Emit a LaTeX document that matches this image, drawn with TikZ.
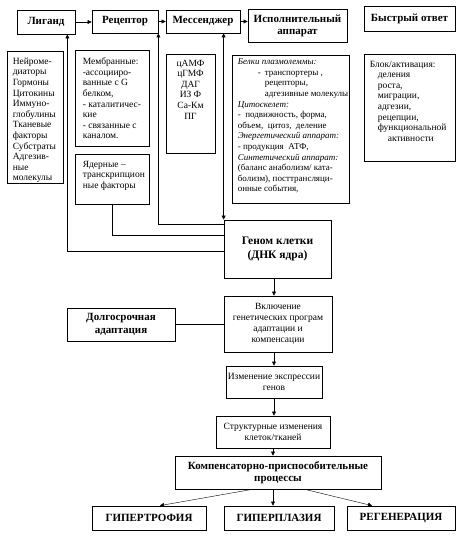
\documentclass[tikz,border=0pt]{standalone}
\usepackage{fontspec}
\setmainfont{Liberation Serif}
\usetikzlibrary{arrows.meta}

\tikzset{
  frame/.style={draw, line width=0.8pt, inner sep=0pt},
  head/.style={frame, align=center, font=\fontsize{11}{12.5}\selectfont\bfseries},
  mid/.style={frame, align=center, font=\fontsize{9.5}{11}\selectfont},
  txt/.style={inner sep=0pt, anchor=north west, align=left, font=\fontsize{9.5}{10.6}\selectfont},
}

\begin{document}
\begin{tikzpicture}[x=1pt, y=-1pt, >={Triangle[length=4pt,width=4pt]}]
\useasboundingbox (0,0) rectangle (469,536);

\node[head, minimum width=58pt, minimum height=24pt] (ligand) at (46,22) {Лиганд};
\node[head, minimum width=66pt, minimum height=23pt] (receptor) at (125,21.5) {Рецептор};
\node[head, minimum width=74pt, minimum height=23pt] (messenger) at (203,21.5) {Мессенджер};
\node[head, minimum width=99pt, minimum height=33pt] (executor) at (297.5,26) {Исполнительный\\аппарат};
\node[head, minimum width=91pt, minimum height=25pt] (fast) at (409.5,18.5) {Быстрый ответ};

\node[frame, minimum width=56pt, minimum height=132pt] (mediators) at (35,117) {};
\node[txt] (mediatorstext) at ([xshift=6pt,yshift=-7pt]mediators.north west)
  {Нейроме-\\диаторы\\Гормоны\\Цитокины\\Иммуно-\\глобулины\\Тканевые\\факторы\\Субстраты\\Адгезив-\\ные\\молекулы};
\node[frame, minimum width=74pt, minimum height=96pt] (membrane) at (112,98) {};
\node[txt] (membranetext) at ([xshift=8pt,yshift=-8pt]membrane.north west)
  {Мембранные:\\-ассоцииро-\\ванные с G\\белком,\\- каталитичес-\\кие\\- связанные с\\каналом.};
\node[frame, minimum width=74pt, minimum height=50pt] (nuclear) at (112,179) {};
\node[txt] (nucleartext) at ([xshift=8pt,yshift=-7pt]nuclear.north west)
  {Ядерные –\\транскрипцион\\ные факторы};
\node[frame, minimum width=49pt, minimum height=99pt] (second) at (190.5,103.5) {};
\node[txt, anchor=north, align=center] (secondtext) at ([yshift=-6pt]second.north)
  {цАМФ\\цГМФ\\ДАГ\\ИЗ Ф\\Са-Км\\ПГ};
\node[frame, minimum width=117pt, minimum height=148pt] (effectors) at (290.5,129) {};
\node[txt, font=\fontsize{9}{10.6}\selectfont] (effectorstext) at ([xshift=6pt,yshift=-4pt]effectors.north west)
  {\textit{Белки плазмолеммы:}\\
   \hspace*{20pt}-\hspace*{4pt}транспортеры ,\\
   \hspace*{27pt}рецепторы,\\
   \hspace*{27pt}адгезивные молекулы\\
   \textit{Цитоскелет:}\\
   -\ \ подвижность, форма,\\
   объем,\ \ цитоз,\ \ деление\\
   \textit{Энергетический аппарат:}\\
   - продукция\ \ АТФ,\\
   \textit{Синтетический аппарат:}\\
   (баланс анаболизм/ ката-\\
   болизм), посттрансляци-\\
   онные события,};
\node[frame, minimum width=91pt, minimum height=107pt] (response) at (409.5,107.5) {};
\node[txt] (responsetext) at ([xshift=6pt,yshift=-7pt]response.north west)
  {Блок/активация:\\
   \hspace*{8pt}деления\\
   \hspace*{8pt}роста,\\
   \hspace*{8pt}миграции,\\
   \hspace*{8pt}адгезии,\\
   \hspace*{8pt}рецепции,\\
   \hspace*{8pt}функциональной\\
   \hspace*{18pt}активности};

\node[head, minimum width=107pt, minimum height=58pt, font=\fontsize{11.5}{14}\selectfont\bfseries] (genome) at (277.5,249) {Геном клетки\\(ДНК ядра)};
\node[mid, minimum width=108pt, minimum height=56pt] (inclusion) at (278,324) {Включение\\генетических програм\\адаптации и\\компенсации};
\node[head, minimum width=108pt, minimum height=33pt] (longterm) at (121,324.5) {Долгосрочная\\адаптация};
\node[mid, minimum width=96pt, minimum height=32pt] (change) at (274,382) {Изменение экспрессии\\генов};
\node[mid, minimum width=114pt, minimum height=32pt] (structural) at (273,432) {Структурные изменения\\клеток/тканей};
\node[head, minimum width=206pt, minimum height=33pt] (comp) at (278,472.5) {Компенсаторно-приспособительные\\процессы};
\node[head, minimum width=114pt, minimum height=24pt] (hyper) at (149,518) {ГИПЕРТРОФИЯ};
\node[head, minimum width=110pt, minimum height=24pt] (plasia) at (279,518) {ГИПЕРПЛАЗИЯ};
\node[head, minimum width=108pt, minimum height=24pt] (regen) at (401,518) {РЕГЕНЕРАЦИЯ};

\draw[->] (ligand.east) -- (receptor.west |- ligand.east);
\draw[->] (receptor.east) -- (messenger.west);
\draw[->] (messenger.east) -- (executor.west |- messenger.east);
\draw[<->] (genome.north west) -- (genome.north west |- messenger.south);
\draw[->] ([yshift=-5pt]genome.north west) -| (receptor.south east);
\draw ([yshift=-16pt]genome.north west) -| (nuclear.south);
\draw[->] ([yshift=-32pt]genome.north west) -| ([xshift=-8pt]ligand.south east);
\draw[->] (genome.south -| change.north) -- (inclusion.north -| change.north);
\draw (longterm.east) -- (inclusion.west |- longterm.east);
\draw[->] (inclusion.south -| change.north) -- (change.north);
\draw[->] (change.south) -- (structural.north -| change.south);
\draw[->] (structural.south) -- (comp.north -| structural.south);
\draw[->] ([xshift=-26pt]comp.south) -- ([xshift=11pt]hyper.north);
\draw[->] (comp.south -| structural.south) -- (plasia.north -| structural.south);
\draw[->] ([xshift=27pt]comp.south) -- ([xshift=-29pt]regen.north);
\end{tikzpicture}
\end{document}
